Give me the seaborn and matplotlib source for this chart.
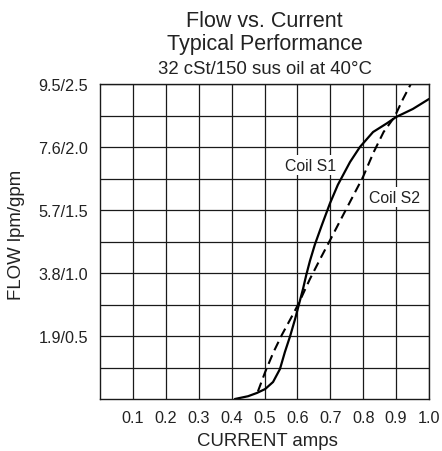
import numpy as np
import pandas as pd
import matplotlib
matplotlib.use("Agg")
import matplotlib.pyplot as plt
import seaborn as sns

# Coil S1 (solid): current in amps, flow in gpm
s1_current = [0.410, 0.450, 0.477, 0.502, 0.526, 0.547, 0.562, 0.578, 0.593, 0.605,
              0.617, 0.627, 0.638, 0.653, 0.675, 0.699, 0.723, 0.760, 0.790, 0.830,
              0.872, 0.900, 0.951, 1.000]
s1_flow = [0.000, 0.022, 0.048, 0.079, 0.135, 0.238, 0.373, 0.500, 0.635, 0.754,
           0.873, 0.985, 1.095, 1.225, 1.385, 1.553, 1.700, 1.881, 2.000, 2.119,
           2.188, 2.238, 2.302, 2.381]

# Coil S2 (dashed)
s2_current = [0.480, 0.502, 0.527, 0.553, 0.580, 0.603, 0.638, 0.671, 0.700, 0.728,
              0.755, 0.799, 0.832, 0.862, 0.895, 0.921, 0.948]
s2_flow = [0.060, 0.214, 0.370, 0.510, 0.640, 0.754, 0.952, 1.120, 1.264, 1.405,
           1.540, 1.760, 1.960, 2.119, 2.238, 2.381, 2.516]

x_ticks = [0.1, 0.2, 0.3, 0.4, 0.5, 0.6, 0.7, 0.8, 0.9, 1.0]
x_labels = ["0.1", "0.2", "0.3", "0.4", "0.5", "0.6", "0.7", "0.8", "0.9", "1.0"]
y_ticks = [0.25, 0.5, 0.75, 1.0, 1.25, 1.5, 1.75, 2.0, 2.25, 2.5]
y_labels = ["", "1.9/0.5", "", "3.8/1.0", "", "5.7/1.5", "", "7.6/2.0", "", "9.5/2.5"]

sns.set_style("white")
plt.rcParams["font.family"] = ["Liberation Sans", "DejaVu Sans"]

fig = plt.figure(figsize=(4.42, 4.52), dpi=100)
ax = fig.add_axes([100 / 442, 1 - 400 / 452, 329 / 442, 315 / 452])

df1 = pd.DataFrame({"current": s1_current, "flow": s1_flow})
df2 = pd.DataFrame({"current": s2_current, "flow": s2_flow})
sns.lineplot(data=df1, x="current", y="flow", ax=ax, color="black", lw=1.6)
sns.lineplot(data=df2, x="current", y="flow", ax=ax, color="black", lw=1.5)
ax.lines[1].set_dashes((4.5, 2.6))

ax.set_xlim(0, 1.0)
ax.set_ylim(0, 2.5)
ax.set_xticks(x_ticks)
ax.set_xticklabels(x_labels)
ax.set_yticks(y_ticks)
ax.set_yticklabels(y_labels)
ax.tick_params(axis="both", length=0, labelsize=11.7, colors="#222222")
ax.tick_params(axis="x", pad=8)
ax.tick_params(axis="y", pad=8.5)
ax.grid(True, color="#1a1a1a", lw=0.9)
ax.set_axisbelow(True)
for sp in ax.spines.values():
    sp.set_visible(True)
    sp.set_color("#1a1a1a")
    sp.set_linewidth(1.0)
ax.set_xlabel("")
ax.set_ylabel("")

box = dict(facecolor="white", edgecolor="none", pad=1.5)
ax.text(0.641, 1.857, "Coil S1", ha="center", va="center", fontsize=11.4, color="#222222", bbox=box)
ax.text(0.894, 1.603, "Coil S2", ha="center", va="center", fontsize=11.4, color="#222222", bbox=box)

cx = (100 + 429) / 2 / 442
fig.text(cx, 1 - 27.3 / 452, "Flow vs. Current", ha="center", va="baseline", fontsize=15.5, color="#222222")
fig.text(cx, 1 - 50 / 452, "Typical Performance", ha="center", va="baseline", fontsize=15.5, color="#222222")
fig.text(cx, 1 - 74 / 452, "32 cSt/150 sus oil at 40°C", ha="center", va="baseline", fontsize=13.4, color="#222222")
fig.text(267.5 / 442, 1 - 442 / 452, "CURRENT amps", ha="center", va="center", fontsize=13.4, color="#222222")
fig.text(17 / 442, 1 - 234.5 / 452, "FLOW lpm/gpm", ha="center", va="center", rotation=90, fontsize=13.4, color="#222222")

fig.savefig("out.png", dpi=100)
